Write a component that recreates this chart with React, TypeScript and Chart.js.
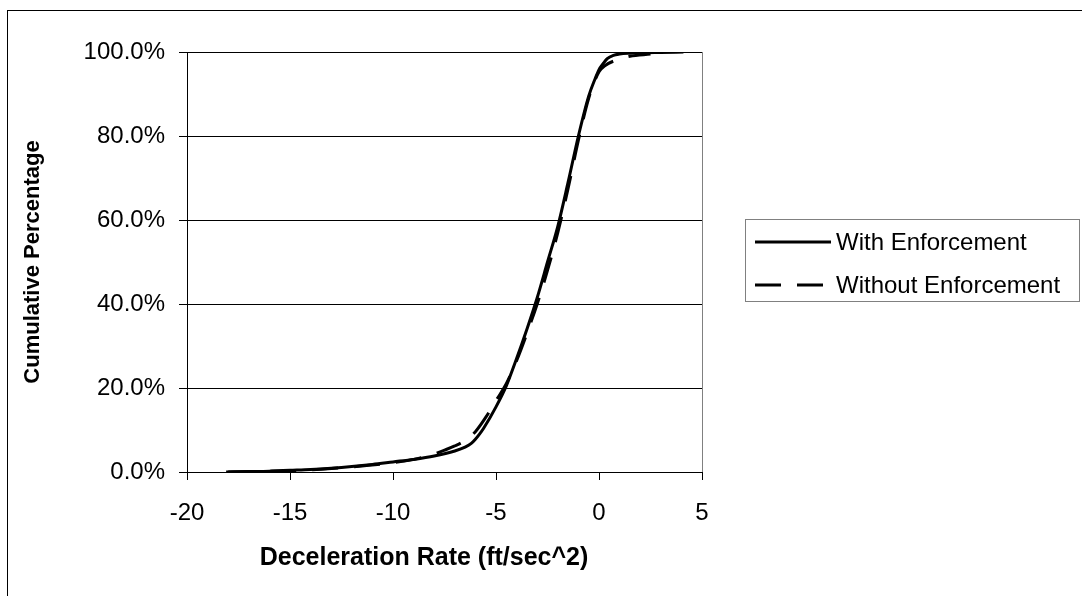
import React, { useEffect, useRef } from "react";
import { Chart, registerables } from "chart.js";

Chart.register(...registerables);

// ---- Data ----
const withEnfX = [-18.1, -17, -16, -15, -14, -13, -12, -11, -10, -9, -8, -7, -6.5, -6.2, -6, -5.8, -5.6, -5, -4.5, -4, -3.5, -3, -2.5, -2, -1.5, -1, -0.5, -0.2, 0, 0.2, 0.4, 0.7, 1, 1.5, 2, 3, 4.1];
const withEnfY = [0, 0.1, 0.2, 0.4, 0.6, 0.9, 1.3, 1.8, 2.4, 3.0, 3.8, 5.0, 5.9, 6.8, 7.8, 9.0, 10.4, 15.5, 20.5, 27, 34, 41.5, 50, 58.5, 69, 80, 89.5, 93.5, 95.8, 97.2, 98.4, 99.2, 99.5, 99.7, 99.8, 99.9, 100];

const withoutEnfX = [-18, -16, -14, -12, -10, -9, -8, -7.5, -7, -6.5, -6, -5.5, -5, -4.5, -4, -3.5, -3, -2.5, -2, -1.5, -1, -0.5, 0, 0.3, 0.8, 1.5, 2.5];
const withoutEnfY = [0, 0.2, 0.5, 1.2, 2.2, 3.0, 4.3, 5.2, 6.2, 7.5, 9.6, 13, 17, 21, 26.5, 33, 40, 48, 57, 67.5, 79, 89, 95.3, 96.8, 98, 99, 99.5];

const seriesLabels = ["With Enforcement", "Without Enforcement"];
const xTickValues = [-20, -15, -10, -5, 0, 5];
const yTickValues = [0, 20, 40, 60, 80, 100];
const xTitle = "Deceleration Rate (ft/sec^2)";
const yTitle = "Cumulative Percentage";

const FONT = "'Liberation Sans', Arial, sans-serif";

const toPoints = (xs: number[], ys: number[]) => xs.map((x, i) => ({ x, y: ys[i] }));

const framePlugin = {
  id: "frameAndLegend",
  afterDraw(chart: any) {
    const ctx = chart.ctx;
    const ca = chart.chartArea;
    ctx.save();
    // outer chart frame
    ctx.strokeStyle = "#000";
    ctx.lineWidth = 1;
    ctx.strokeRect(7.5, 10.5, 1200, 700);
    // plot area right border
    ctx.strokeStyle = "#808080";
    ctx.beginPath();
    ctx.moveTo(Math.round(ca.right) + 0.5, ca.top);
    ctx.lineTo(Math.round(ca.right) + 0.5, ca.bottom);
    ctx.stroke();

    // x axis title
    ctx.fillStyle = "#000";
    ctx.font = `bold 25px ${FONT}`;
    ctx.textAlign = "center";
    ctx.textBaseline = "middle";
    ctx.fillText(xTitle, 424, 558);

    // legend box
    const lx = 745.5, ly = 219.5, lw = 334, lh = 82;
    ctx.strokeStyle = "#808080";
    ctx.lineWidth = 1;
    ctx.fillStyle = "#fff";
    ctx.fillRect(lx, ly, lw, lh);
    ctx.strokeRect(lx, ly, lw, lh);
    const rows = [242, 285];
    const ordered = [...chart.data.datasets].sort((a: any, b: any) => seriesLabels.indexOf(a.label) - seriesLabels.indexOf(b.label));
    ordered.forEach((ds: any, i: number) => {
      const y = rows[i];
      ctx.strokeStyle = ds.borderColor;
      ctx.lineWidth = ds.borderWidth;
      ctx.setLineDash(ds.borderDash || []);
      ctx.beginPath();
      ctx.moveTo(755, y);
      ctx.lineTo(831, y);
      ctx.stroke();
      ctx.setLineDash([]);
      ctx.fillStyle = "#000";
      ctx.font = `24px ${FONT}`;
      ctx.textBaseline = "middle";
      ctx.textAlign = "left";
      ctx.fillText(ds.label, 836, y + 1);
    });
    ctx.restore();
  },
};

export default function App() {
  const canvasRef = useRef<HTMLCanvasElement | null>(null);

  useEffect(() => {
    if (!canvasRef.current) return;
    Chart.defaults.font.family = FONT;
    Chart.defaults.color = "#000";
    const chart = new Chart(canvasRef.current, {
      type: "line",
      data: {
        datasets: [
          {
            label: seriesLabels[0],
            data: toPoints(withEnfX, withEnfY),
            borderColor: "#000",
            borderWidth: 3,
            pointRadius: 0,
            cubicInterpolationMode: "monotone",
            fill: false,
            order: 1,
          },
          {
            label: seriesLabels[1],
            data: toPoints(withoutEnfX, withoutEnfY),
            borderColor: "#000",
            borderWidth: 3,
            borderDash: [26, 16],
            pointRadius: 0,
            cubicInterpolationMode: "monotone",
            fill: false,
            order: 2,
          },
        ],
      },
      options: {
        responsive: false,
        animation: false,
        events: [],
        layout: { padding: { top: 52, right: 380, bottom: 0, left: 0 } },
        plugins: {
          legend: { display: false },
          tooltip: { enabled: false },
        },
        scales: {
          x: {
            type: "linear",
            min: -20,
            max: 5,
            afterBuildTicks: (scale: any) => {
              scale.ticks = xTickValues.map((v) => ({ value: v }));
            },
            ticks: { font: { size: 24 }, padding: 19, color: "#000", maxRotation: 0 },
            grid: { drawOnChartArea: false, drawTicks: true, tickLength: 8, color: "#000" },
            border: { color: "#000", width: 1 },
            title: { display: false, text: xTitle },
            afterFit: (scale: any) => {
              scale.height = 124;
            },
          },
          y: {
            type: "linear",
            min: 0,
            max: 100,
            afterBuildTicks: (scale: any) => {
              scale.ticks = yTickValues.map((v) => ({ value: v }));
            },
            ticks: {
              font: { size: 24 },
              padding: 14,
              color: "#000",
              callback: (v: any) => Number(v).toFixed(1) + "%",
            },
            grid: { drawOnChartArea: true, drawTicks: true, tickLength: 8, color: "#000", lineWidth: 1 },
            border: { color: "#000", width: 1 },
            title: { display: true, text: yTitle, font: { size: 22, weight: "bold" }, padding: { top: 20, bottom: 0 }, color: "#000" },
            afterFit: (scale: any) => {
              scale.width = 187;
            },
          },
        },
      },
      plugins: [framePlugin],
    } as any);
    return () => chart.destroy();
  }, []);

  return (
    <div style={{ position: "fixed", left: 0, top: 0, width: 1082, height: 596, background: "#fff" }}>
      <canvas ref={canvasRef} width={1082} height={596} style={{ display: "block" }} />
    </div>
  );
}
